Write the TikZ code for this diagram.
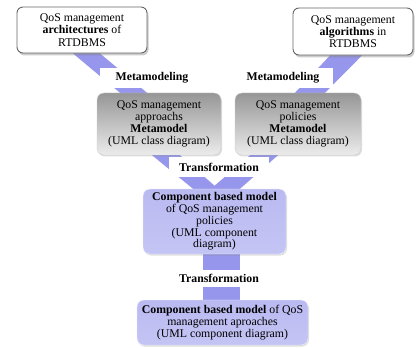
\documentclass[tikz,border=0pt]{standalone}
\usepackage{fontspec}
\setmainfont{Liberation Serif}
\usetikzlibrary{shadows,backgrounds}

\definecolor{bandblue}{RGB}{150,150,236}
\definecolor{boxgraytop}{RGB}{150,150,150}
\definecolor{boxgraybot}{RGB}{236,236,236}
\definecolor{boxbluetop}{RGB}{186,186,242}
\definecolor{boxbluemid}{RGB}{220,220,250}
\definecolor{boxbluebot}{RGB}{196,196,244}

\begin{document}
\begin{tikzpicture}[x=1pt,y=-1pt,
  every node/.style={font=\fontsize{11.8}{12.2}\selectfont,align=center,inner sep=1pt},
  srcbox/.style={rectangle,rounded corners=6pt,draw=gray!80!black,line width=0.9pt,
    fill=white,drop shadow={opacity=0.4,shadow xshift=1.5pt,shadow yshift=-2.5pt}},
  metabox/.style={rectangle,rounded corners=7pt,draw=gray!40,
    top color=boxgraytop,bottom color=boxgraybot,
    drop shadow={opacity=0.25,shadow xshift=1pt,shadow yshift=-1.5pt}},
  compbox/.style={rectangle,rounded corners=7pt,draw=white!85!bandblue,
    top color=boxbluetop,middle color=boxbluemid,bottom color=boxbluebot,
    drop shadow={opacity=0.25,shadow xshift=1pt,shadow yshift=-1.5pt}},
  steplabel/.style={rectangle,fill=white,font=\fontsize{11.8}{12.2}\selectfont\bfseries},
  band/.style={fill=bandblue}]

  % source boxes
  \node[srcbox,minimum width=130,minimum height=46] (arch) at (82,30)
    {QoS management\\\textbf{architectures} of\\RTDBMS};
  \node[srcbox,minimum width=120,minimum height=47] (algo) at (353,31.5)
    {QoS management\\\textbf{algorithms} in\\RTDBMS};

  % metamodels
  \node[metabox,minimum width=124,minimum height=62] (appr) at (159,124)
    {QoS management\\approachs\\\textbf{Metamodel}\\(UML class diagram)};
  \node[metabox,minimum width=126,minimum height=62] (pol) at (298,124)
    {QoS management\\policies\\\textbf{Metamodel}\\(UML class diagram)};

  % component models
  \node[compbox,minimum width=143,minimum height=65,
    font=\fontsize{11.8}{11.8}\selectfont] (compol) at (214.5,221.5)
    {\textbf{Component based model}\\of QoS management\\policies\\(UML component\\diagram)};
  \node[compbox,minimum width=171,minimum height=45] (compappr) at (222.5,322.5)
    {\textbf{Component based model} of QoS\\management aproaches\\(UML component diagram)};

  % step labels
  \node[steplabel,minimum width=104,minimum height=20] (metaL) at (152,78) {Metamodeling};
  \node[steplabel,minimum width=100,minimum height=20] (metaR) at (283,78) {Metamodeling};
  \node[steplabel,minimum width=100,minimum height=20] (transA) at (219,167) {Transformation};
  \node[steplabel,minimum width=80,minimum height=17] (transB) at (219,278) {Transformation};

  \begin{pgfonlayer}{background}
    \fill[white] (0,0) rectangle (419,347);
    % metamodeling bands
    \fill[band] ([xshift=-9pt]arch.south) -- ([xshift=18pt]arch.south)
      -- ([xshift=-12pt]appr.north) -- ([xshift=-39pt]appr.north) -- cycle;
    \fill[band] ([xshift=-23pt]algo.south) -- ([xshift=9pt]algo.south)
      -- ([xshift=27pt]pol.north) -- ([xshift=-3pt]pol.north) -- cycle;
    % transformation V
    \fill[band] ([xshift=-7pt]appr.south) -- ([xshift=21pt]appr.south)
      -- ([xshift=3.5pt]compol.north) -- ([xshift=-21.5pt]compol.north) -- cycle;
    \fill[band] ([xshift=-48pt]pol.south) -- ([xshift=-20pt]pol.south)
      -- ([xshift=25.5pt]compol.north) -- ([xshift=-3.5pt]compol.north) -- cycle;
    % lower bar
    \fill[band] ([xshift=-11.5pt]compol.south) rectangle ([xshift=17.5pt,yshift=-1pt]compappr.north);
  \end{pgfonlayer}
\end{tikzpicture}
\end{document}
